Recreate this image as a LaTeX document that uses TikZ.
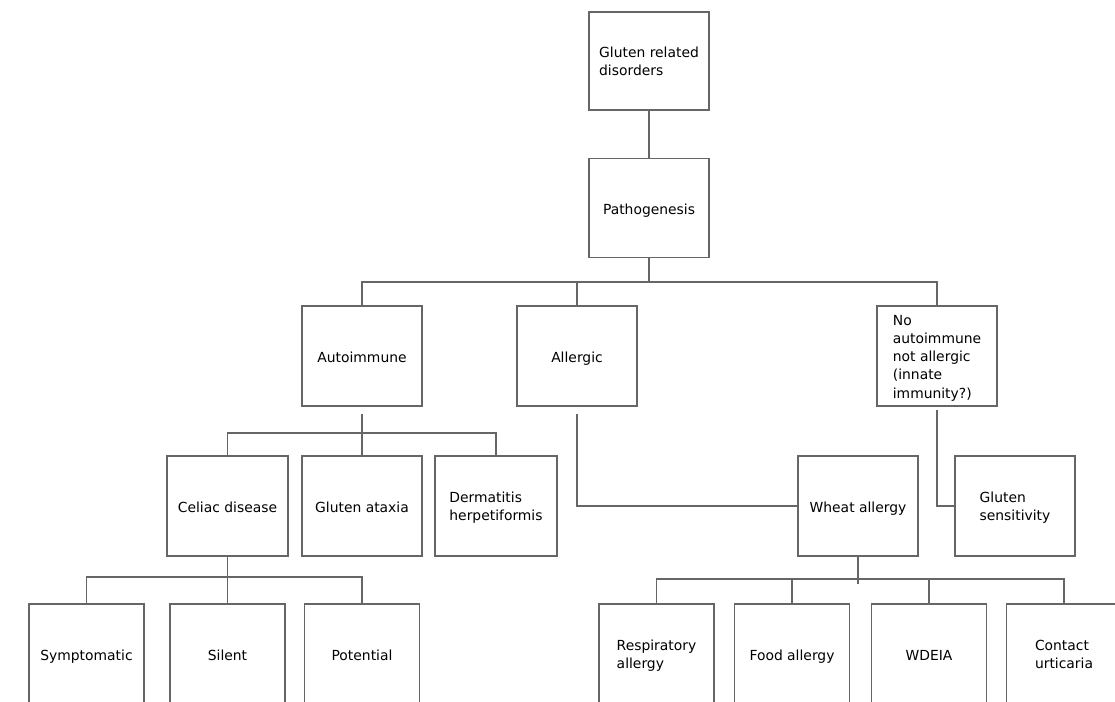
\documentclass[tikz,border=0pt]{standalone}
\usepackage{fontspec}
\setmainfont{DejaVu Sans}
\begin{document}
\begin{tikzpicture}[x=0.02cm,y=-0.02cm]
\tikzstyle{box}=[draw=black!60,line width=0.6pt,minimum width=2.4cm,minimum height=2cm,align=left,inner sep=0pt,font=\fontsize{7.9}{10.4}\selectfont,execute at begin node={\rule{0pt}{10.7pt}},execute at end node=\strut]
\tikzstyle{sbox}=[box,minimum width=2.3cm]
\tikzstyle{twoline}=[text height=20.2pt,text depth=3.15pt]
\tikzstyle{fiveline}=[text height=51.2pt,text depth=3.15pt]
\tikzstyle{link}=[draw=black!60,line width=0.6pt]
\useasboundingbox (0,0) rectangle (1115,702);
\clip (0,0) rectangle (1115,702);
\node[box,twoline,minimum height=1.96cm] at (649,61) (grd) {Gluten related\\disorders};
\node[box,minimum height=1.98cm] at (649,208) (patho) {Pathogenesis};
\node[box] at (362,356) (auto) {Autoimmune};
\node[box] at (577,356) (allerg) {Allergic};
\node[box,fiveline] at (937,356) (noai) {No\\autoimmune\\not allergic\\(innate\\immunity?)};
\node[box,minimum width=2.42cm] at (227.5,506) (celiac) {Celiac disease};
\node[box] at (362,506) (gatax) {Gluten ataxia};
\node[box,twoline,minimum width=2.44cm] at (496,506) (derm) {Dermatitis\\herpetiformis};
\node[box] at (858,506) (wheat) {Wheat allergy};
\node[box,twoline] at (1015,506) (gsens) {Gluten\\sensitivity};
\node[sbox] at (86.5,654) (symp) {Symptomatic};
\node[sbox] at (227.5,654) (silent) {Silent};
\node[sbox] at (362,654) (pot) {Potential};
\node[sbox,twoline] at (656.5,654) (resp) {Respiratory\\allergy};
\node[sbox] at (792,654) (food) {Food allergy};
\node[sbox] at (929,654) (wdeia) {WDEIA};
\node[sbox,twoline] at (1064,654) (contact) {Contact\\urticaria};
\coordinate (bar1) at (649,282);
\coordinate (bar2) at (362,433);
\coordinate (bar3) at (227.5,577);
\coordinate (bar4) at (858,579);
\draw[link] (grd) -- (patho);
\draw[link] (patho.south) -- (bar1);
\draw[link] (auto.north) |- (bar1) -| (noai.north);
\draw[link] (allerg.north) -- (allerg.north |- bar1);
\draw[link,shorten <=4] (auto.south) -- (bar2);
\draw[link] (celiac.north) |- (bar2) -| (derm.north);
\draw[link] (gatax.north) -- (bar2);
\draw[link,shorten <=4] (allerg.south) |- (wheat.west);
\draw[link,shorten <=2] (noai.south) |- (gsens.west);
\draw[link] (celiac.south) -- (silent.north);
\draw[link] (symp.north) |- (bar3) -| (pot.north);
\draw[link] (wheat.south) -- ([yshift=-3]bar4);
\draw[link] (resp.north) |- (bar4) -| (contact.north);
\draw[link] (food.north) -- (food.north |- bar4);
\draw[link] (wdeia.north) -- (wdeia.north |- bar4);
\end{tikzpicture}
\end{document}
